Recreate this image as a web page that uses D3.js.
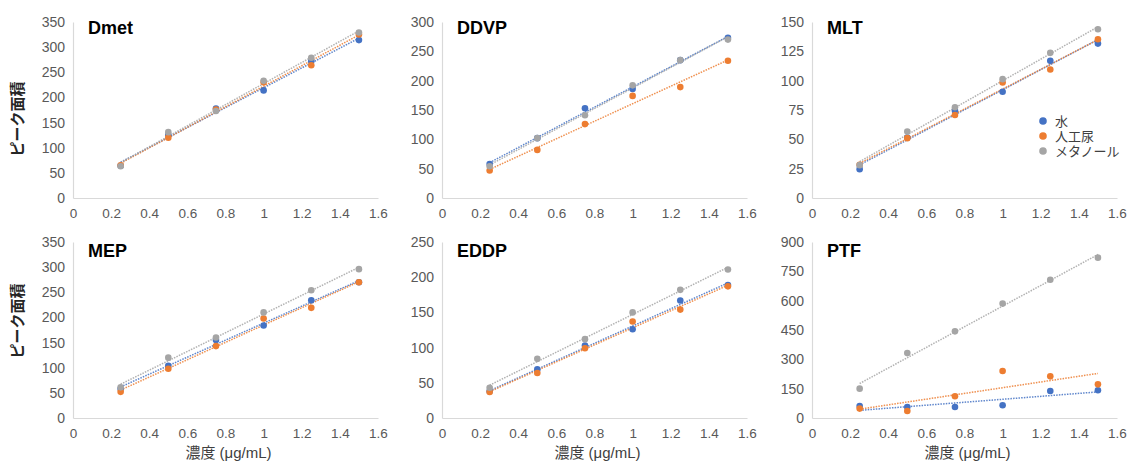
<!DOCTYPE html>
<html>
<head>
<meta charset="utf-8">
<script src="https://cdn.jsdelivr.net/npm/d3@7/dist/d3.min.js"></script>
<style>
  html, body { margin: 0; padding: 0; background: #fff; }
  svg { display: block; font-family: "Liberation Sans", Arial, "Noto Sans CJK JP", sans-serif; }
</style>
</head>
<body>
<svg id="chart" width="1131" height="463"></svg>
<script>
// ---- data ----
const concentrations = [0.25, 0.5, 0.75, 1, 1.25, 1.5];
const seriesNames = ["水", "人工尿", "メタノール"];
const panelNames = ["Dmet", "DDVP", "MLT", "MEP", "EDDP", "PTF"];
const xTickValues = [0, 0.2, 0.4, 0.6, 0.8, 1, 1.2, 1.4, 1.6];
const yMaxValues = [350, 300, 150, 350, 250, 900];
const yTickSteps = [50, 50, 25, 50, 50, 150];

const dmetWater    = [64, 125, 178, 214, 272, 314];
const dmetUrine    = [65, 120, 176, 230, 264, 325];
const dmetMethanol = [63, 131, 173, 233, 279, 329];

const ddvpWater    = [58, 102, 153, 186, 235, 273];
const ddvpUrine    = [47, 82, 126, 174, 189, 234];
const ddvpMethanol = [54, 102, 141, 192, 235, 270];

const mltWater    = [24.6, 51.5, 74.4, 90.6, 116.9, 131.6];
const mltUrine    = [28.3, 51, 70.8, 98.5, 109.5, 135.3];
const mltMethanol = [28, 56.6, 77.3, 101.3, 123.7, 143.8];

const mepWater    = [58, 104, 155, 184, 234, 270];
const mepUrine    = [52, 98, 143, 198, 219, 270];
const mepMethanol = [61, 120, 160, 210, 254, 296];

const eddpWater    = [38, 69, 103, 126, 167, 189];
const eddpUrine    = [37, 64, 99, 137, 154, 187];
const eddpMethanol = [43, 84, 112, 150, 182, 211];

const ptfWater    = [61, 56, 56, 65, 138, 142];
const ptfUrine    = [48, 36, 111, 240, 213, 172];
const ptfMethanol = [150, 332, 443, 585, 707, 820];

const panelSeries = [
  [dmetWater, dmetUrine, dmetMethanol],
  [ddvpWater, ddvpUrine, ddvpMethanol],
  [mltWater, mltUrine, mltMethanol],
  [mepWater, mepUrine, mepMethanol],
  [eddpWater, eddpUrine, eddpMethanol],
  [ptfWater, ptfUrine, ptfMethanol]
];

// ---- styles / layout ----
const colors = ["#4472C4", "#ED7D31", "#A5A5A5"];
const colLefts = [73, 442, 812];
const rowTops = [22, 242];
const plotW = 305, plotH = 176;
const titleBaselines = [34, 257];
const yTitleCenters = [119, 321];

const svg = d3.select("#chart");

function linreg(xs, ys) {
  const n = xs.length;
  const mx = d3.mean(xs), my = d3.mean(ys);
  let sxy = 0, sxx = 0;
  for (let i = 0; i < n; i++) { sxy += (xs[i]-mx)*(ys[i]-my); sxx += (xs[i]-mx)*(xs[i]-mx); }
  const b = sxy / sxx;
  return { a: my - b*mx, b };
}

panelNames.forEach((name, pi) => {
  const col = pi % 3, row = Math.floor(pi / 3);
  const left = colLefts[col], top = rowTops[row];
  const g = svg.append("g").attr("transform", `translate(${left},${top})`);

  const x = d3.scaleLinear().domain([0, 1.6]).range([0, plotW]);
  const y = d3.scaleLinear().domain([0, yMaxValues[pi]]).range([plotH, 0]);
  const yTicks = d3.range(0, yMaxValues[pi] + 0.001, yTickSteps[pi]);

  // y axis
  const yAxis = g.append("g").call(d3.axisLeft(y).tickValues(yTicks).tickSize(0).tickPadding(8).tickFormat(d3.format("d")));
  yAxis.select(".domain").attr("stroke", "#D9D9D9").attr("stroke-width", 1.2);
  yAxis.selectAll("text").attr("fill", "#595959").style("font-size", "14px");

  // x axis
  const xAxis = g.append("g").attr("transform", `translate(0,${plotH})`)
    .call(d3.axisBottom(x).tickValues(xTickValues).tickSize(0).tickPadding(10).tickFormat(d => d3.format("~g")(d)));
  xAxis.select(".domain").attr("stroke", "#D9D9D9").attr("stroke-width", 1.2);
  xAxis.selectAll("text").attr("fill", "#595959").style("font-size", "13.5px");

  // trendlines
  panelSeries[pi].forEach((vals, si) => {
    const r = linreg(concentrations, vals);
    const x0 = concentrations[0], x1 = concentrations[concentrations.length - 1];
    g.append("line")
      .attr("x1", x(x0)).attr("y1", y(r.a + r.b*x0))
      .attr("x2", x(x1)).attr("y2", y(r.a + r.b*x1))
      .attr("stroke", colors[si]).attr("stroke-width", 1.5)
      .attr("stroke-dasharray", "1.5,1.2").attr("opacity", 0.85);
  });

  // markers
  panelSeries[pi].forEach((vals, si) => {
    g.append("g").selectAll("circle").data(vals).join("circle")
      .attr("cx", (d, i) => x(concentrations[i]))
      .attr("cy", d => y(d))
      .attr("r", 3.3)
      .attr("fill", colors[si]);
  });

  // panel title
  svg.append("text")
    .attr("x", left + 15).attr("y", titleBaselines[row])
    .attr("font-weight", "bold").attr("font-size", "18px").attr("fill", "#000")
    .text(name);

  // y axis title (first column)
  if (col === 0) {
    svg.append("text")
      .attr("transform", `translate(23,${yTitleCenters[row]}) rotate(-90)`)
      .attr("text-anchor", "middle")
      .attr("font-weight", "bold").attr("font-size", "15px").attr("fill", "#262626")
      .text("ピーク面積");
  }
  // x axis title (bottom row)
  if (row === 1) {
    svg.append("text")
      .attr("x", left + plotW/2 + 3).attr("y", 458)
      .attr("text-anchor", "middle")
      .attr("font-size", "15px").attr("fill", "#404040")
      .text("濃度 (μg/mL)");
  }
});

// legend (in MLT panel)
const legendY = [121, 136, 151];
seriesNames.forEach((s, i) => {
  svg.append("circle").attr("cx", 1043).attr("cy", legendY[i]).attr("r", 3.8).attr("fill", colors[i]);
  svg.append("text").attr("x", 1055).attr("y", legendY[i] + 4.5)
    .attr("font-size", "13px").attr("fill", "#404040").text(s);
});
</script>
</body>
</html>
